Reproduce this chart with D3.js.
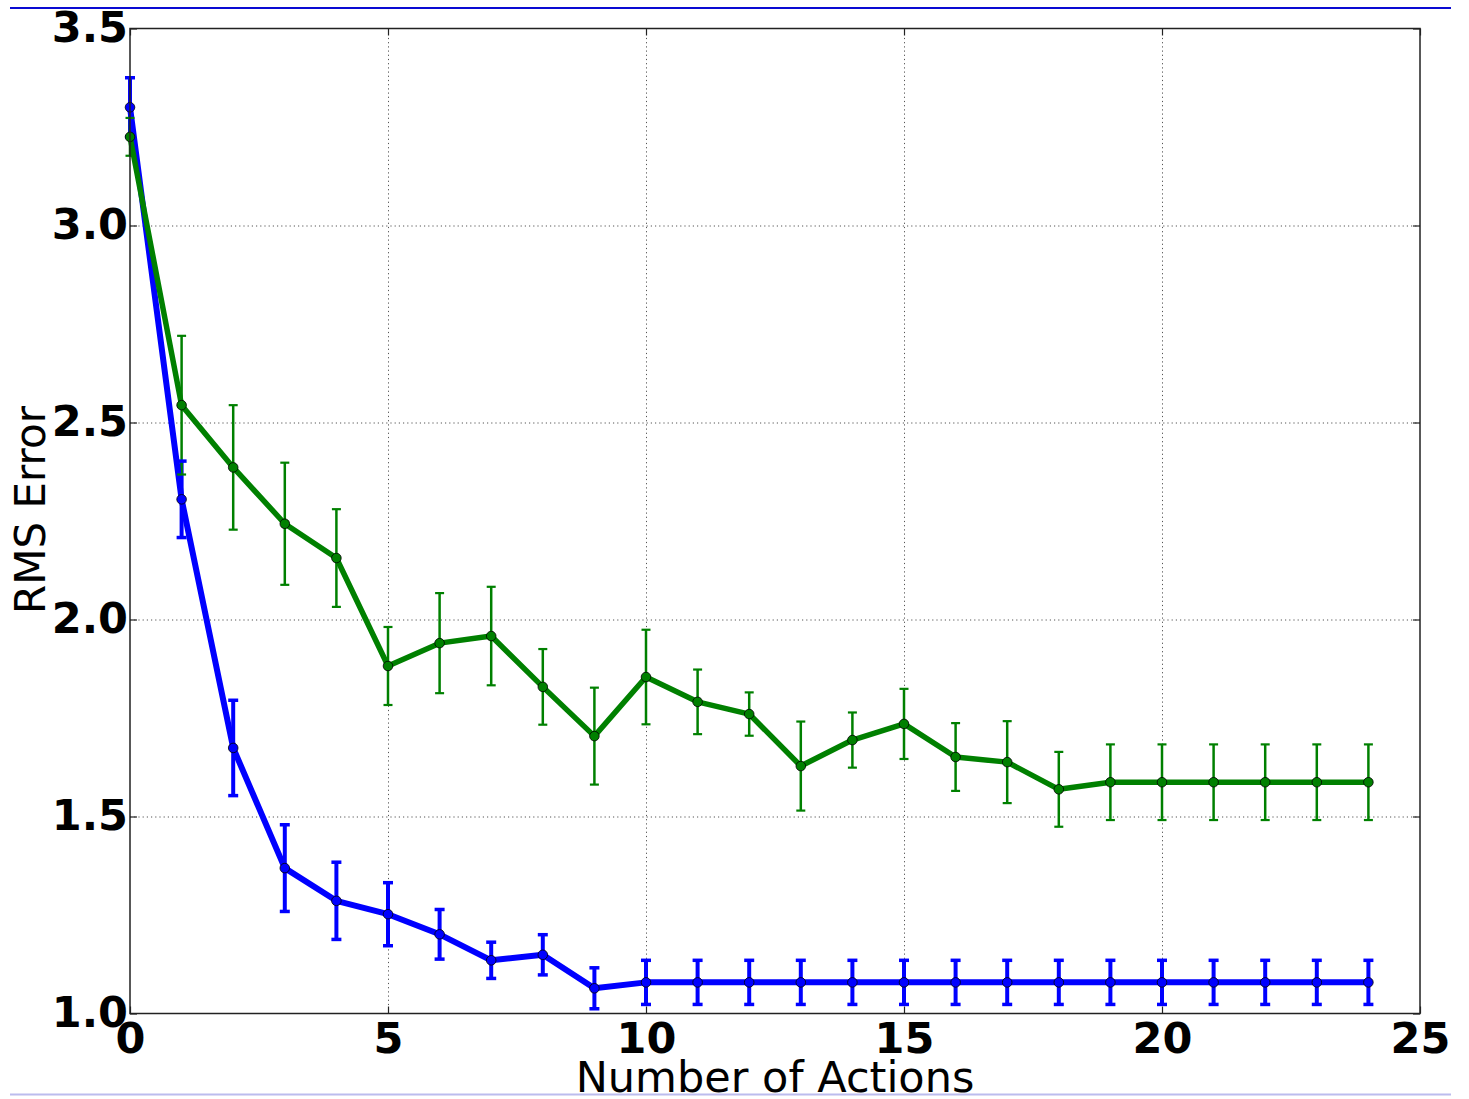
<!DOCTYPE html>
<html>
<head>
<meta charset="utf-8">
<script src="https://cdn.jsdelivr.net/npm/d3@7"></script>
<style>
  html, body { margin: 0; padding: 0; background: #fff; }
  svg { display: block; }
</style>
</head>
<body>
<svg id="chart" width="1469" height="1099"></svg>
<script>
// Number of actions on the x axis
const actions = [0, 1, 2, 3, 4, 5, 6, 7, 8, 9, 10, 11, 12, 13, 14, 15, 16, 17, 18, 19, 20, 21, 22, 23, 24];

// Blue series: mean RMS error and error-bar half height
const blueMean = [3.300, 2.305, 1.674, 1.369, 1.286, 1.252, 1.201, 1.135, 1.149, 1.064,
                  1.079, 1.079, 1.079, 1.079, 1.079, 1.079, 1.079, 1.079, 1.079, 1.079,
                  1.079, 1.079, 1.079, 1.079, 1.079];
const blueErr  = [0.075, 0.097, 0.121, 0.110, 0.098, 0.080, 0.063, 0.046, 0.051, 0.052,
                  0.056, 0.056, 0.056, 0.056, 0.056, 0.056, 0.056, 0.056, 0.056, 0.056,
                  0.056, 0.056, 0.056, 0.056, 0.056];

// Green series: mean RMS error and error-bar half height
const greenMean = [3.225, 2.544, 2.386, 2.243, 2.156, 1.882, 1.940, 1.958, 1.829, 1.704,
                   1.854, 1.791, 1.760, 1.628, 1.694, 1.735, 1.651, 1.638, 1.569, 1.587,
                   1.587, 1.587, 1.587, 1.587, 1.587];
const greenErr  = [0.048, 0.176, 0.158, 0.155, 0.124, 0.099, 0.127, 0.125, 0.096, 0.123,
                   0.120, 0.082, 0.055, 0.113, 0.070, 0.089, 0.086, 0.104, 0.095, 0.096,
                   0.096, 0.096, 0.096, 0.096, 0.096];

// Axis ticks
const xTicks = [0, 5, 10, 15, 20, 25];
const yTicks = [1.0, 1.5, 2.0, 2.5, 3.0, 3.5];
const xLabel = "Number of Actions";
const yLabel = "RMS Error";

const svg = d3.select("#chart");
const plotL = 130, plotR = 1420, plotT = 28.5, plotB = 1013.5;

const x = d3.scaleLinear().domain([0, 25]).range([plotL, plotR]);
const y = d3.scaleLinear().domain([1.0, 3.5]).range([plotB, plotT]);

// Page rules above and below the figure
svg.append("line").attr("x1", 10).attr("x2", 1451).attr("y1", 8).attr("y2", 8)
  .attr("stroke", "#0a0ad2").attr("stroke-width", 2);
svg.append("line").attr("x1", 10).attr("x2", 1451).attr("y1", 1094.5).attr("y2", 1094.5)
  .attr("stroke", "#bcbcee").attr("stroke-width", 2);

// Dotted grid
const gridX = svg.append("g").attr("transform", `translate(0,${plotB})`)
  .call(d3.axisBottom(x).tickValues(xTicks.slice(1, -1)).tickSize(-(plotB - plotT)).tickFormat(""));
const gridY = svg.append("g").attr("transform", `translate(${plotL},0)`)
  .call(d3.axisLeft(y).tickValues(yTicks.slice(1, -1)).tickSize(-(plotR - plotL)).tickFormat(""));
[gridX, gridY].forEach(g => {
  g.select(".domain").remove();
  g.selectAll(".tick line").attr("stroke", "#555").attr("stroke-width", 1)
    .attr("stroke-dasharray", "1.2,3");
});

// Error bars for both series first (vertical lines)
function bars(mean, err, color, w) {
  svg.append("g").selectAll("line").data(actions).join("line")
    .attr("x1", d => x(d)).attr("x2", d => x(d))
    .attr("y1", (d, i) => y(mean[i] + err[i]))
    .attr("y2", (d, i) => y(mean[i] - err[i]))
    .attr("stroke", color).attr("stroke-width", w);
}
bars(blueMean, blueErr, "#0000ff", 4);
bars(greenMean, greenErr, "#008000", 2.5);

// Data line, caps and markers of one series
function series(mean, err, color, lw, capW, capT) {
  const g = svg.append("g");
  const line = d3.line().x(d => x(d)).y((d, i) => y(mean[i]));
  g.append("path").datum(actions).attr("d", line)
    .attr("fill", "none").attr("stroke", color).attr("stroke-width", lw)
    .attr("stroke-linejoin", "round");
  ["top", "bot"].forEach(side => {
    g.append("g").selectAll("line").data(actions).join("line")
      .attr("x1", d => x(d) - capW / 2).attr("x2", d => x(d) + capW / 2)
      .attr("y1", (d, i) => y(side === "top" ? mean[i] + err[i] : mean[i] - err[i]))
      .attr("y2", (d, i) => y(side === "top" ? mean[i] + err[i] : mean[i] - err[i]))
      .attr("stroke", color).attr("stroke-width", capT);
  });
  g.append("g").selectAll("circle").data(actions).join("circle")
    .attr("cx", d => x(d)).attr("cy", (d, i) => y(mean[i])).attr("r", 4.8)
    .attr("fill", color).attr("stroke", "#000").attr("stroke-width", 0.8);
}
series(blueMean, blueErr, "#0000ff", 6, 10, 3.5);
series(greenMean, greenErr, "#008000", 5.5, 9, 2.2);

// Frame
svg.append("rect").attr("x", plotL).attr("y", plotT)
  .attr("width", plotR - plotL).attr("height", plotB - plotT)
  .attr("fill", "none").attr("stroke", "#222").attr("stroke-width", 1.5);

// Axes with inward ticks on all four sides
const axB = svg.append("g").attr("transform", `translate(0,${plotB})`)
  .call(d3.axisBottom(x).tickValues(xTicks).tickSize(-7).tickPadding(0).tickFormat(d3.format("d")));
const axT = svg.append("g").attr("transform", `translate(0,${plotT})`)
  .call(d3.axisTop(x).tickValues(xTicks).tickSize(-7).tickFormat(""));
const axL = svg.append("g").attr("transform", `translate(${plotL},0)`)
  .call(d3.axisLeft(y).tickValues(yTicks).tickSize(-7).tickPadding(0).tickFormat(d3.format(".1f")));
const axR = svg.append("g").attr("transform", `translate(${plotR},0)`)
  .call(d3.axisRight(y).tickValues(yTicks).tickSize(-7).tickFormat(""));
[axB, axT, axL, axR].forEach(g => {
  g.select(".domain").remove();
  g.selectAll(".tick line").attr("stroke", "#222").attr("stroke-width", 1.2);
});

axB.selectAll(".tick text")
  .attr("y", 39).attr("dy", null)
  .attr("font-family", "DejaVu Sans").attr("font-weight", "bold")
  .attr("font-size", 43).attr("fill", "#000").attr("text-anchor", "middle");
axL.selectAll(".tick text")
  .attr("x", -2).attr("dy", 13).attr("y", 0)
  .attr("font-family", "DejaVu Sans").attr("font-weight", "bold")
  .attr("font-size", 43).attr("fill", "#000").attr("text-anchor", "end");

// Axis titles
svg.append("text").attr("x", (plotL + plotR) / 2).attr("y", 1092)
  .attr("text-anchor", "middle").attr("font-family", "DejaVu Sans")
  .attr("font-size", 43).attr("fill", "#000").text(xLabel);
svg.append("text").attr("transform", `translate(45,510) rotate(-90)`)
  .attr("text-anchor", "middle").attr("font-family", "DejaVu Sans")
  .attr("font-size", 42).attr("fill", "#000").text(yLabel);
</script>
</body>
</html>
